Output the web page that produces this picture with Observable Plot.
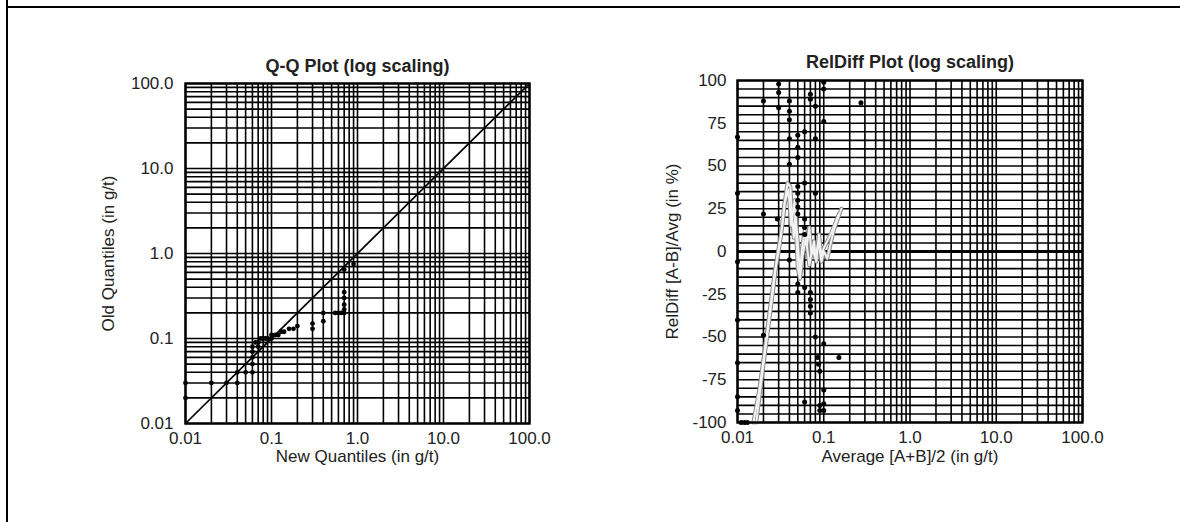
<!DOCTYPE html>
<html>
<head>
<meta charset="utf-8">
<script src="https://cdn.jsdelivr.net/npm/d3@7"></script>
<script src="https://cdn.jsdelivr.net/npm/@observablehq/plot@0.6"></script>
<style>
  html, body { margin: 0; padding: 0; background: #fff; }
  #wrap { position: relative; width: 1180px; height: 522px; overflow: hidden; background: #fff; font-family: "Liberation Sans", Arial, sans-serif; }
  .vline { position: absolute; left: 6px; top: 0; width: 2px; height: 522px; background: #000; }
  .hline { position: absolute; left: 6px; top: 6px; width: 1174px; height: 2px; background: #000; }
  #p1 { position: absolute; left: 0; top: 0; }
  #p2 { position: absolute; left: 600px; top: 0; }
</style>
</head>
<body>
<div id="wrap">
  <div class="vline"></div>
  <div class="hline"></div>
  <div id="p1"></div>
  <div id="p2"></div>
</div>
<script>
// ---- tick / grid positions ----
const logTicks = [0.01, 0.1, 1, 10, 100];
const logTickLabels = ["0.01", "0.1", "1.0", "10.0", "100.0"];
const logGrid = [0.01,0.02,0.03,0.04,0.05,0.06,0.07,0.08,0.09,
                 0.1,0.2,0.3,0.4,0.5,0.6,0.7,0.8,0.9,
                 1,2,3,4,5,6,7,8,9,
                 10,20,30,40,50,60,70,80,90,100];
const relTicks = [-100, -75, -50, -25, 0, 25, 50, 75, 100];
const relTickLabels = ["-100", "-75", "-50", "-25", "0", "25", "50", "75", "100"];
const relGrid = d3.range(-100, 101, 5);

// ---- Q-Q plot data ----
const qqNew = [0.01, 0.01, 0.02, 0.03, 0.04, 0.04, 0.05, 0.06, 0.06, 0.06, 0.06, 0.06, 0.065, 0.07, 0.07, 0.075, 0.08, 0.085, 0.09, 0.1, 0.1, 0.11, 0.12, 0.13, 0.14, 0.16, 0.18, 0.2, 0.3, 0.3, 0.4, 0.4, 0.55, 0.6, 0.65, 0.7, 0.7, 0.7, 0.7, 0.7, 0.7, 0.9];
const qqOld = [0.02, 0.03, 0.03, 0.03, 0.03, 0.04, 0.04, 0.04, 0.05, 0.06, 0.07, 0.08, 0.09, 0.08, 0.09, 0.1, 0.1, 0.1, 0.1, 0.1, 0.11, 0.11, 0.11, 0.12, 0.12, 0.13, 0.13, 0.14, 0.13, 0.15, 0.16, 0.2, 0.2, 0.2, 0.2, 0.2, 0.22, 0.25, 0.3, 0.35, 0.65, 0.75];
const diagEnds = [0.01, 100];

// ---- RelDiff plot data ----
const rdAvg = [0.01,0.01,0.01,0.01,0.01,0.01,0.01,0.011,0.012,0.013,
  0.02,0.02,0.02, 0.029, 0.03,0.03,0.03,
  0.04,0.04,0.04,0.04,0.04,0.04,
  0.05,0.05,0.05,0.05,0.05,0.05,0.05,0.05,0.05,0.05,
  0.06,0.06,0.06,0.06,0.06,0.06,0.06,
  0.07,0.07,0.07,0.07,0.07,0.07,
  0.08,0.08,0.08,0.08,
  0.085,0.087,0.09,0.09,0.09,
  0.1,0.1,0.1,0.1,0.1,0.1,0.1,
  0.15, 0.27];
const rdRel = [67,34,-6,-40,-65,-85,-93,-100,-100,-100,
  88,22,-49, 19, 98,93,84,
  88,82,77,66,51,-5,
  68,61,55,38,34,30,26,22,-19,-24,
  70,40,19,14,10,-21,-88,
  92,89,-24,-28,-32,-36,
  85,66,34,-50,
  -62,-66,-70,-90,-93,
  99,95,76,-54,-81,-89,-93,
  -62, 87];

const lineAAvg = [0.0153,0.018,0.021,0.024,0.027,0.03,0.033,0.036,0.038,0.041,0.043,0.045,0.047,0.05,0.053,0.056,0.06,0.064,0.068,0.072,0.077,0.082,0.088,0.094,0.1,0.12,0.15];
const lineARel = [-100,-80,-55,-32,-12,0,15,32,40,38,20,8,22,5,-12,2,12,4,14,-2,6,-6,10,-3,2,10,22];
const lineBAvg = [0.0165,0.019,0.022,0.026,0.029,0.032,0.035,0.039,0.042,0.046,0.05,0.053,0.057,0.062,0.068,0.074,0.08,0.087,0.094,0.1,0.11,0.13,0.16];
const lineBRel = [-100,-75,-50,-22,-2,10,28,36,15,30,-10,-16,-2,8,-8,2,-4,6,-6,0,-4,12,25];

const FONT = "\"Liberation Sans\", Arial, sans-serif";
const style = { fontFamily: FONT, fontSize: "17px", color: "#222", background: "transparent", overflow: "visible" };

const qqData = qqNew.map((x, i) => ({ x, y: qqOld[i] }));
const rdData = rdAvg.map((x, i) => ({ x, y: rdRel[i] }));
const lineA = lineAAvg.map((x, i) => ({ x, y: lineARel[i] }));
const lineB = lineBAvg.map((x, i) => ({ x, y: lineBRel[i] }));

const p1 = Plot.plot({
  width: 600, height: 480,
  marginLeft: 185, marginRight: 71, marginTop: 83, marginBottom: 57,
  style,
  x: { type: "log", domain: [0.01, 100] },
  y: { type: "log", domain: [0.01, 100] },
  marks: [
    Plot.ruleX(logGrid, { stroke: "#000", strokeWidth: 1.6 }),
    Plot.ruleY(logGrid, { stroke: "#000", strokeWidth: 1.6 }),
    Plot.line(diagEnds, { x: d => d, y: d => d, stroke: "#000", strokeWidth: 1.7 }),
    Plot.dot(qqData, { x: "x", y: "y", r: 2.4, fill: "#000", stroke: "none" }),
    Plot.frame({ stroke: "#000", strokeWidth: 2.4 }),
    Plot.axisX({ ticks: logTicks, tickFormat: (d) => logTickLabels[logTicks.indexOf(d)], tickSize: 0, tickPadding: 8, label: null }),
    Plot.axisY({ ticks: logTicks, tickFormat: (d) => logTickLabels[logTicks.indexOf(d)], tickSize: 0, tickPadding: 12, label: null }),
    Plot.text(["Q-Q Plot (log scaling)"], { frameAnchor: "top", lineAnchor: "middle", textAnchor: "middle", dy: -17, fontWeight: "bold", fontSize: 18, fill: "#222" }),
    Plot.text(["New Quantiles (in g/t)"], { frameAnchor: "bottom", lineAnchor: "middle", textAnchor: "middle", dy: 33, fontSize: 17, fill: "#222" }),
    Plot.text(["Old Quantiles (in g/t)"], { frameAnchor: "left", lineAnchor: "middle", textAnchor: "middle", dx: -77, rotate: -90, fontSize: 17, fill: "#222" })
  ]
});
document.getElementById("p1").appendChild(p1);

const p2 = Plot.plot({
  width: 580, height: 480,
  marginLeft: 137, marginRight: 98, marginTop: 80, marginBottom: 58,
  style,
  x: { type: "log", domain: [0.01, 100] },
  y: { domain: [-100, 100] },
  marks: [
    Plot.ruleX(logGrid, { stroke: "#000", strokeWidth: 1.6 }),
    Plot.ruleY(relGrid, { stroke: "#000", strokeWidth: 1.6 }),
    Plot.ruleY([0], { stroke: "#000", strokeWidth: 2.8 }),
    Plot.line(lineA, { x: "x", y: "y", stroke: "#8a8a8a", strokeWidth: 4 }),
    Plot.line(lineB, { x: "x", y: "y", stroke: "#8a8a8a", strokeWidth: 4 }),
    Plot.line(lineA, { x: "x", y: "y", stroke: "#f2f2f2", strokeWidth: 2 }),
    Plot.line(lineB, { x: "x", y: "y", stroke: "#f2f2f2", strokeWidth: 2 }),
    Plot.dot(rdData, { x: "x", y: "y", r: 2.5, fill: "#000", stroke: "none" }),
    Plot.frame({ stroke: "#000", strokeWidth: 2.4 }),
    Plot.axisX({ ticks: logTicks, tickFormat: (d) => logTickLabels[logTicks.indexOf(d)], tickSize: 0, tickPadding: 8, label: null }),
    Plot.axisY({ ticks: relTicks, tickFormat: (d) => relTickLabels[relTicks.indexOf(d)], tickSize: 0, tickPadding: 11, label: null }),
    Plot.text(["RelDiff Plot (log scaling)"], { frameAnchor: "top", lineAnchor: "middle", textAnchor: "middle", dy: -18, fontWeight: "bold", fontSize: 18, fill: "#222" }),
    Plot.text(["Average [A+B]/2 (in g/t)"], { frameAnchor: "bottom", lineAnchor: "middle", textAnchor: "middle", dy: 34, fontSize: 17, fill: "#222" }),
    Plot.text(["RelDiff [A-B]/Avg (in %)"], { frameAnchor: "left", lineAnchor: "middle", textAnchor: "middle", dx: -65, rotate: -90, fontSize: 17, fill: "#222" })
  ]
});
document.getElementById("p2").appendChild(p2);
</script>
</body>
</html>
